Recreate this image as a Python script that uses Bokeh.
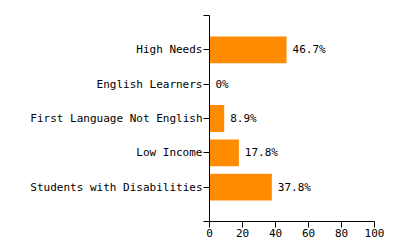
from bokeh.plotting import figure
from bokeh.models import ColumnDataSource, FixedTicker, Range1d
from bokeh.core.properties import value
from bokeh.embed import file_html
from bokeh.resources import INLINE

categories = ["High Needs", "English Learners", "First Language Not English",
              "Low Income", "Students with Disabilities"]
values = [46.7, 0, 8.9, 17.8, 37.8]
x_ticks = [0, 20, 40, 60, 80, 100]

n = len(categories)
ypos = [n - i for i in range(n)]
labels = [("%g" % v) + "%" for v in values]
src = ColumnDataSource(dict(y=ypos, v=values, lab=labels))

FONT = "DejaVu Sans Mono"

p = figure(width=400, height=250, output_backend="svg", toolbar_location=None,
           x_range=Range1d(0, 100), y_range=Range1d(0, n + 1),
           min_border_left=209, min_border_right=26, min_border_top=15,
           min_border_bottom=29)
p.outline_line_color = None
p.xgrid.visible = False
p.ygrid.visible = False
p.background_fill_color = "white"
p.border_fill_color = "white"

p.hbar(y="y", right="v", left=0, height=0.78, source=src,
       fill_color="#FF8C00", line_color=None)
p.text(x="v", y="y", text="lab", source=src, x_offset=6,
       text_font=value(FONT), text_font_size="11px", text_color="#000000",
       text_baseline="middle", text_align="left")

p.yaxis.ticker = FixedTicker(ticks=list(range(0, n + 2)))
p.yaxis.major_label_overrides = {n - i: c for i, c in enumerate(categories)}
p.yaxis.major_label_overrides.update({0: "", n + 1: ""})
p.yaxis.major_label_overrides = {**{0: "", n + 1: ""}, **{n - i: c for i, c in enumerate(categories)}}
p.yaxis.minor_tick_line_color = None
p.yaxis.major_tick_out = 6
p.yaxis.major_tick_in = 0
p.yaxis.major_label_standoff = 1

p.xaxis.ticker = FixedTicker(ticks=x_ticks)
p.xaxis.minor_tick_line_color = None
p.xaxis.major_tick_out = 6
p.xaxis.major_tick_in = 0
p.xaxis.major_label_standoff = 1

for ax in (p.xaxis, p.yaxis):
    ax.axis_line_color = "black"
    ax.major_tick_line_color = "black"
    ax.major_label_text_font = FONT
    ax.major_label_text_font_size = "11px"
    ax.major_label_text_color = "#000000"

open("out.html", "w").write(file_html(p, INLINE))
